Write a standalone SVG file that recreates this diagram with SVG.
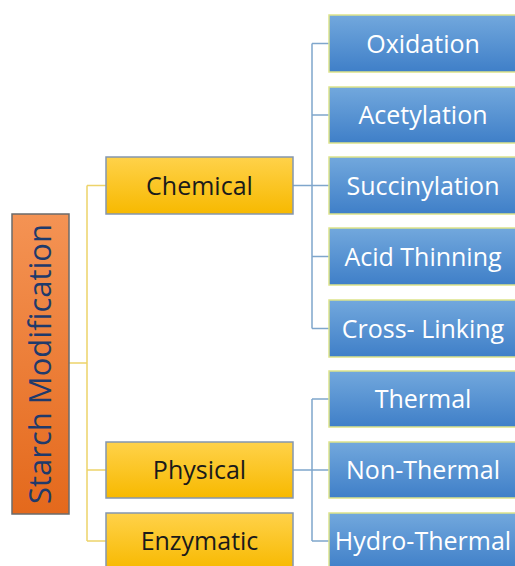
<svg xmlns="http://www.w3.org/2000/svg" width="515" height="566" viewBox="0 0 515 566">
<defs>
<linearGradient id="gBlue" x1="0" y1="0" x2="0" y2="1"><stop offset="0" stop-color="#72A8DD"/><stop offset="1" stop-color="#3F7FC8"/></linearGradient>
<linearGradient id="gYel" x1="0" y1="0" x2="0" y2="1"><stop offset="0" stop-color="#FFD24A"/><stop offset="1" stop-color="#F7B900"/></linearGradient>
<linearGradient id="gOr" x1="0" y1="0" x2="0" y2="1"><stop offset="0" stop-color="#F49354"/><stop offset="1" stop-color="#E4691C"/></linearGradient>
</defs>
<style>
.blue{fill:url(#gBlue);stroke:#DDE38A;stroke-width:1.5}
.yel{fill:url(#gYel);stroke:#8497B0;stroke-width:1.5}
.org{fill:url(#gOr);stroke:#6B6B6B;stroke-width:1.5}
.tw{font-family:"Open Sans","Noto Sans",sans-serif;font-size:25px;fill:#FFFFFF;text-anchor:middle}
.tk{font-family:"Open Sans","Noto Sans",sans-serif;font-size:25px;fill:#1A1A1A;text-anchor:middle}
.ts{font-family:"Open Sans","Noto Sans",sans-serif;font-size:31px;fill:#1F3A6B;text-anchor:middle}
.cy{fill:none;stroke:#EDD36A;stroke-width:1.5}
.cb{fill:none;stroke:#7FA6CC;stroke-width:1.5}
</style>
<g id="connectors">
<path class="cy" d="M69,363 H87 M87,185.5 V541 M87,185.5 H106 M87,470 H106 M87,541 H106"/>
<path class="cb" d="M293,185.5 H312 M312,43.5 V328.5 M312,43.5 H329 M312,115 H329 M312,185.5 H329 M312,256.5 H329 M312,328.5 H329"/>
<path class="cb" d="M293,470 H312 M312,399 V541 M312,399 H329 M312,470 H329 M312,541 H329"/>
</g>
<g id="starch"><rect class="org" x="12" y="214" width="57" height="300"/><text class="ts" transform="translate(51,364) rotate(-90)">Starch Modification</text></g>
<g id="chemical"><rect class="yel" x="106" y="157" width="187" height="57"/><text class="tk" x="199.5" y="195">Chemical</text></g>
<g id="physical"><rect class="yel" x="106" y="442" width="187" height="56"/><text class="tk" x="199.5" y="479">Physical</text></g>
<g id="enzymatic"><rect class="yel" x="106" y="513" width="187" height="57"/><text class="tk" x="199.5" y="550">Enzymatic</text></g>
<g id="oxidation"><rect class="blue" x="329" y="15" width="188" height="57"/><text class="tw" x="423" y="52.5">Oxidation</text></g>
<g id="acetylation"><rect class="blue" x="329" y="87" width="188" height="56"/><text class="tw" x="423" y="124">Acetylation</text></g>
<g id="succinylation"><rect class="blue" x="329" y="157" width="188" height="57"/><text class="tw" x="423" y="194.5">Succinylation</text></g>
<g id="acidthinning"><rect class="blue" x="329" y="228" width="188" height="57"/><text class="tw" x="423" y="265.5">Acid Thinning</text></g>
<g id="crosslinking"><rect class="blue" x="329" y="300" width="188" height="57"/><text class="tw" x="423" y="337.5">Cross- Linking</text></g>
<g id="thermal"><rect class="blue" x="329" y="371" width="188" height="56"/><text class="tw" x="423" y="407.5">Thermal</text></g>
<g id="nonthermal"><rect class="blue" x="329" y="442" width="188" height="56"/><text class="tw" x="423" y="479">Non-Thermal</text></g>
<g id="hydrothermal"><rect class="blue" x="329" y="513" width="188" height="57"/><text class="tw" x="423" y="550">Hydro-Thermal</text></g>
</svg>
